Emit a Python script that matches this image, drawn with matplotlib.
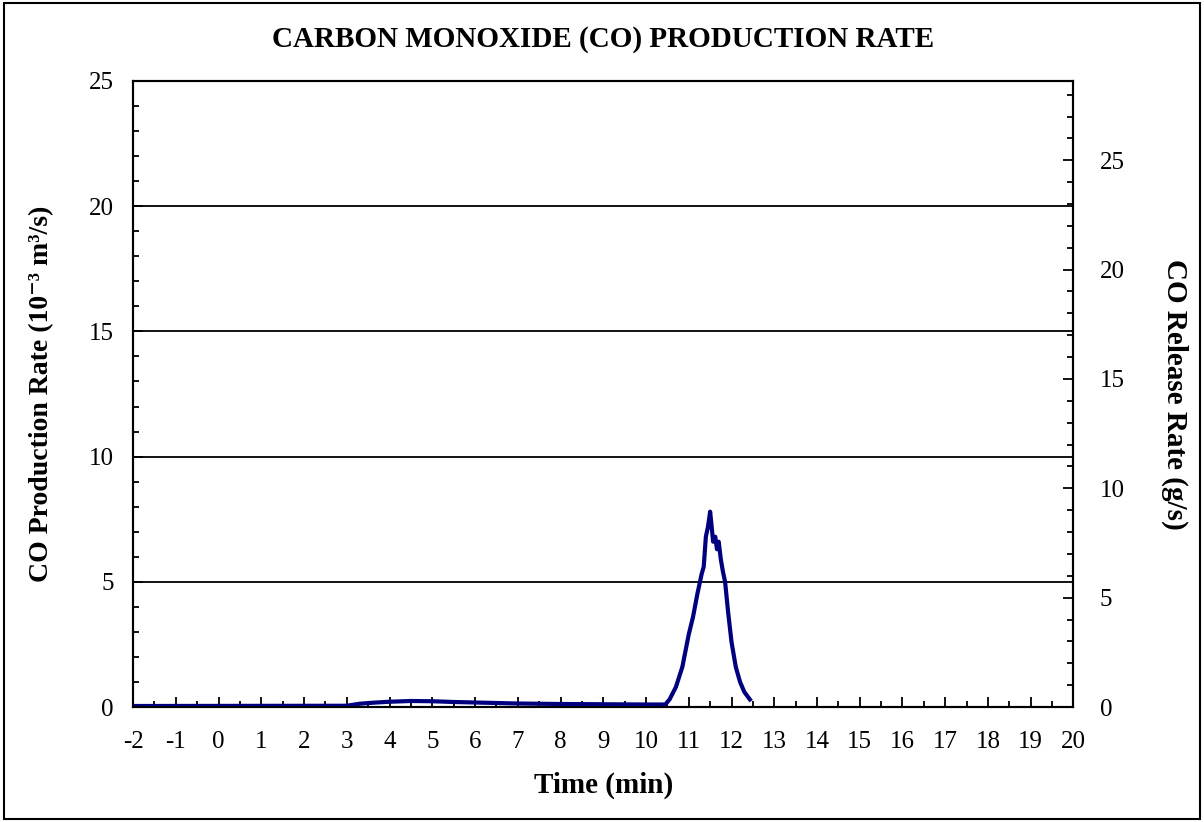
import numpy as np
import matplotlib
matplotlib.use("Agg")
from matplotlib import pyplot as plt
from matplotlib.ticker import MultipleLocator
from matplotlib.patches import Rectangle

# CO production rate (10^-3 m3/s)
time_min = [-2.0, 3.0, 3.3, 3.6, 4.0, 4.5, 5.0, 5.5, 6.0, 7.0, 8.0, 9.0, 10.0,
            10.45, 10.55, 10.7, 10.85, 11.0, 11.1, 11.2, 11.3, 11.35, 11.4,
            11.45, 11.5, 11.53, 11.57, 11.62, 11.66, 11.7, 11.75, 11.8, 11.85,
            11.92, 12.0, 12.1, 12.2, 12.3, 12.43]
co_rate = [0.04, 0.05, 0.13, 0.17, 0.21, 0.24, 0.23, 0.20, 0.18, 0.14, 0.12,
           0.11, 0.10, 0.10, 0.30, 0.80, 1.60, 2.90, 3.60, 4.50, 5.30, 5.60,
           6.80, 7.20, 7.80, 7.30, 6.60, 6.80, 6.30, 6.60, 5.90, 5.40, 5.00,
           3.80, 2.60, 1.60, 1.00, 0.60, 0.30]

co_density = 1.145  # kg/m3 -> g/s scale for right axis

plt.rcParams['font.family'] = ['Liberation Serif', 'DejaVu Serif']
plt.rcParams['axes.unicode_minus'] = False

fig = plt.figure(figsize=(12.04, 8.22), dpi=100)
ax = fig.add_axes([0.1105, 0.1399, 0.7811, 0.7616])

ax.plot(time_min, co_rate, color='#00007f', linewidth=3.0, zorder=3)

ax.set_xlim(-2, 20)
ax.set_ylim(0, 25)
ax.xaxis.set_major_locator(MultipleLocator(1))
ax.xaxis.set_minor_locator(MultipleLocator(0.5))
ax.yaxis.set_major_locator(MultipleLocator(5))
ax.yaxis.set_minor_locator(MultipleLocator(1))
ax.tick_params(which='both', direction='in', labelsize=18, width=1.3)
ax.tick_params(which='major', length=7)
ax.tick_params(which='minor', length=4)
ax.tick_params(axis='x', pad=17)
ax.tick_params(axis='y', pad=14)
ax.grid(axis='y', which='major', color='black', linewidth=1.3)
for s in ax.spines.values():
    s.set_linewidth(1.5)

ax.set_title('CARBON MONOXIDE (CO) PRODUCTION RATE', fontsize=21,
             fontweight='bold', pad=25)
ax.set_xlabel('Time (min)', fontsize=21, fontweight='bold', labelpad=14)
ax.set_ylabel('CO Production Rate (10⁻³ m³/s)',
              fontsize=20, fontweight='bold', labelpad=25)

ax2 = ax.twinx()
ax2.set_ylim(0, 25 * co_density)
ax2.yaxis.set_major_locator(MultipleLocator(5))
ax2.yaxis.set_minor_locator(MultipleLocator(1))
ax2.tick_params(which='both', direction='in', labelsize=18, width=1.3, pad=19)
ax2.tick_params(which='major', length=7)
ax2.tick_params(which='minor', length=4)
ax2.set_ylabel('CO Release Rate (g/s)', fontsize=21, fontweight='bold',
               rotation=-90, labelpad=46)
for s in ax2.spines.values():
    s.set_linewidth(1.5)

fig.patches.append(Rectangle((0.003, 0.004), 0.994, 0.992, transform=fig.transFigure,
                             fill=False, edgecolor='black', linewidth=1.5))

fig.savefig('out.png', dpi=100)
